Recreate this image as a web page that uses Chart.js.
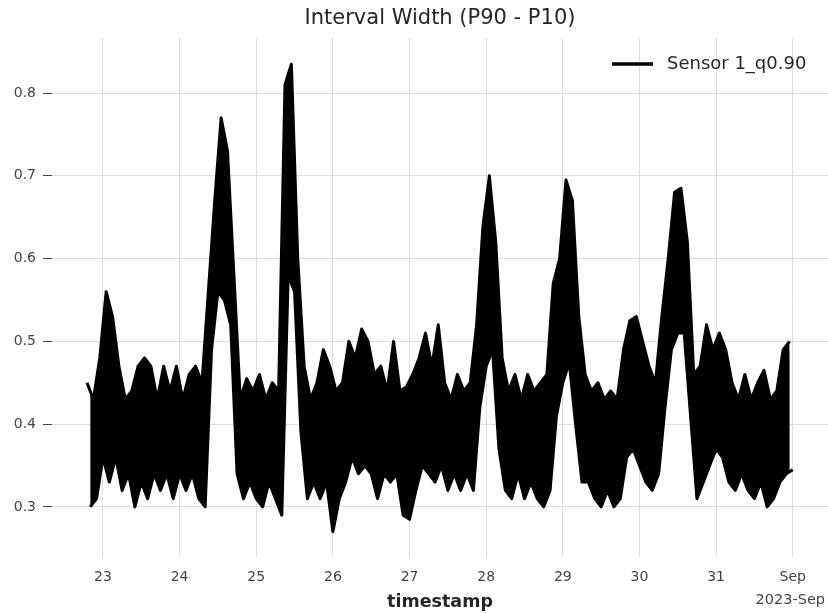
<!DOCTYPE html>
<html>
<head>
<meta charset="utf-8">
<title>Interval Width (P90 - P10)</title>
<script src="https://cdn.jsdelivr.net/npm/chart.js@4.4.1/dist/chart.umd.min.js"></script>
<style>
    html, body { margin: 0; padding: 0; background: #fff; }
    #chart { display: block; }
</style>
</head>
<body>
<canvas id="chart" width="828" height="613"></canvas>
<script>
// Sensor 1 interval width (q0.90 - q0.10), two-hour bins starting Aug 22 19:00.
// Each bin keeps the high and low of the raw trace; the band between them is filled.
const startDay = 22 + 19 / 24; // x axis is day of August (Sep 1 = 32)

const upper = [
    0.45, 0.43, 0.48, 0.56, 0.53, 0.47, 0.43, 0.44, 0.47, 0.48,
    0.47, 0.43, 0.47, 0.44, 0.47, 0.43, 0.46, 0.47, 0.45, 0.56,
    0.67, 0.77, 0.73, 0.58, 0.43, 0.455, 0.44, 0.46, 0.43, 0.45,
    0.44, 0.81, 0.835, 0.60, 0.47, 0.43, 0.45, 0.49, 0.47, 0.44,
    0.45, 0.50, 0.48, 0.515, 0.50, 0.46, 0.47, 0.44, 0.50, 0.44,
    0.445, 0.46, 0.48, 0.51, 0.47, 0.52, 0.45, 0.43, 0.46, 0.44,
    0.45, 0.52, 0.64, 0.70, 0.62, 0.48, 0.44, 0.46, 0.43, 0.46,
    0.44, 0.45, 0.46, 0.57, 0.60, 0.695, 0.67, 0.53, 0.46, 0.44,
    0.45, 0.43, 0.44, 0.43, 0.49, 0.525, 0.53, 0.50, 0.47, 0.45,
    0.53, 0.60, 0.68, 0.685, 0.62, 0.46, 0.47, 0.52, 0.49, 0.51,
    0.49, 0.45, 0.43, 0.46, 0.43, 0.45, 0.465, 0.43, 0.44, 0.49,
    0.50
];

const lower = [
    0.30, 0.31, 0.36, 0.33, 0.36, 0.32, 0.34, 0.30, 0.33, 0.31,
    0.34, 0.32, 0.34, 0.31, 0.34, 0.32, 0.34, 0.31, 0.30, 0.49,
    0.56, 0.55, 0.52, 0.34, 0.31, 0.33, 0.31, 0.30, 0.33, 0.31,
    0.29, 0.58, 0.56, 0.39, 0.31, 0.33, 0.31, 0.33, 0.27, 0.31,
    0.33, 0.36, 0.34, 0.35, 0.34, 0.31, 0.34, 0.33, 0.34, 0.29,
    0.285, 0.32, 0.35, 0.34, 0.33, 0.35, 0.32, 0.34, 0.32, 0.34,
    0.32, 0.42, 0.47, 0.49, 0.37, 0.32, 0.31, 0.34, 0.31, 0.33,
    0.31, 0.30, 0.32, 0.41, 0.45, 0.475, 0.40, 0.33, 0.33, 0.31,
    0.30, 0.32, 0.30, 0.31, 0.36, 0.37, 0.35, 0.33, 0.32, 0.34,
    0.42, 0.49, 0.51, 0.51, 0.41, 0.31, 0.33, 0.35, 0.37, 0.36,
    0.33, 0.32, 0.34, 0.32, 0.31, 0.33, 0.30, 0.31, 0.33, 0.34,
    0.345
];

const xTicks = [23, 24, 25, 26, 27, 28, 29, 30, 31, 32];
const xTickLabels = ['23', '24', '25', '26', '27', '28', '29', '30', '31', 'Sep'];
const yTicks = [0.3, 0.4, 0.5, 0.6, 0.7, 0.8];
const yTickLabels = ['0.3', '0.4', '0.5', '0.6', '0.7', '0.8'];

// hi at the start of each bin, lo one hour later
const upperPoints = upper.map((v, k) => ({ x: startDay + (2 * k) / 24, y: v }));
const lowerPoints = lower.map((v, k) => ({ x: startDay + (2 * k + 1) / 24, y: v }));

const textColor = '#262626';
const gridColor = '#dedede';
const font = '"DejaVu Sans", sans-serif';

// title, in-plot legend and the date offset label
const decorations = {
    id: 'decorations',
    afterDraw(chart) {
        const ctx = chart.ctx;
        const area = chart.chartArea;
        ctx.save();
        ctx.fillStyle = textColor;
        ctx.textBaseline = 'middle';

        ctx.font = '21px ' + font;
        ctx.textAlign = 'center';
        ctx.fillText('Interval Width (P90 - P10)', (area.left + area.right) / 2, 19);

        ctx.strokeStyle = '#000';
        ctx.lineWidth = 3.5;
        ctx.beginPath();
        ctx.moveTo(area.right - 216, 64);
        ctx.lineTo(area.right - 175, 64);
        ctx.stroke();
        ctx.font = '18px ' + font;
        ctx.textAlign = 'left';
        ctx.fillText('Sensor 1_q0.90', area.right - 161, 64);

        ctx.font = '14.5px ' + font;
        ctx.fillStyle = '#444';
        ctx.textAlign = 'right';
        ctx.fillText('2023-Sep', 825, 600);
        ctx.restore();
    }
};

const lineStyle = {
    borderColor: '#000',
    borderWidth: 3,
    borderJoinStyle: 'round',
    pointRadius: 0,
    tension: 0
};

new Chart(document.getElementById('chart'), {
    type: 'line',
    data: {
        datasets: [
            { label: 'Sensor 1_q0.90', data: upperPoints, fill: false, ...lineStyle },
            { label: 'low', data: lowerPoints, fill: '-1', backgroundColor: '#000', ...lineStyle }
        ]
    },
    options: {
        responsive: false,
        devicePixelRatio: 1,
        animation: false,
        layout: { padding: { top: 38, left: 0, right: 0, bottom: 0 } },
        plugins: {
            legend: { display: false },
            tooltip: { enabled: false }
        },
        scales: {
            x: {
                type: 'linear',
                min: 22.335,
                max: 32.46,
                afterBuildTicks: scale => {
                    scale.ticks = xTicks.map(v => ({ value: v }));
                },
                afterFit: scale => { scale.height = 56; },
                border: { display: false },
                grid: { color: gridColor, lineWidth: 1, drawTicks: false },
                ticks: {
                    color: '#444',
                    font: { family: font, size: 14 },
                    padding: 12,
                    maxRotation: 0,
                    autoSkip: false,
                    callback: (value, index) => xTickLabels[index]
                },
                title: {
                    display: true,
                    text: 'timestamp',
                    color: textColor,
                    font: { family: font, size: 17.5, weight: 'bold' },
                    padding: { top: 0, bottom: 0 }
                }
            },
            y: {
                type: 'linear',
                min: 0.2395,
                max: 0.8665,
                afterBuildTicks: scale => {
                    scale.ticks = yTicks.map(v => ({ value: v }));
                },
                afterFit: scale => { scale.width = 52; },
                border: { display: false },
                grid: { color: gridColor, lineWidth: 1, tickColor: '#444', tickLength: 9, tickWidth: 1 },
                ticks: {
                    color: '#444',
                    font: { family: font, size: 14 },
                    padding: 7,
                    autoSkip: false,
                    callback: (value, index) => yTickLabels[index]
                }
            }
        }
    },
    plugins: [decorations]
});
</script>
</body>
</html>
